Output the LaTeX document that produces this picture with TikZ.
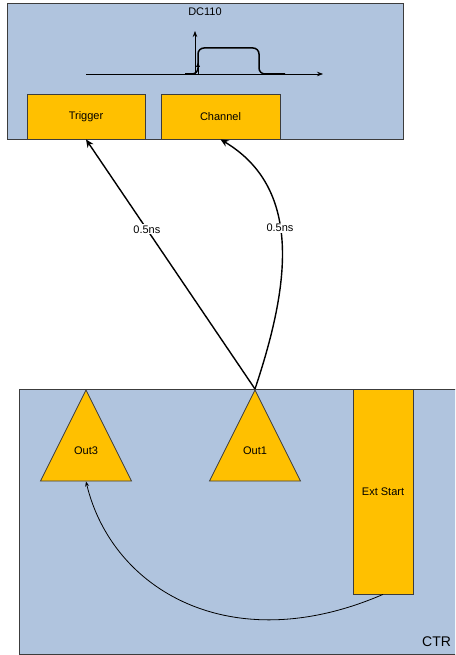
\documentclass[tikz,border=0pt]{standalone}
\usepackage{fontspec}
\setmainfont{Liberation Sans}
\usepackage{tikz}
\usetikzlibrary{arrows.meta,shapes.geometric}
\definecolor{panelBlue}{HTML}{B0C4DE}
\definecolor{partAmber}{HTML}{FFC000}
\definecolor{edgeGray}{HTML}{3C3C3C}

\begin{document}
\begin{tikzpicture}[x=1pt,y=-1pt,font=\fontsize{11}{13}\selectfont,
    panel/.style={draw=edgeGray,line width=0.8pt,fill=panelBlue,inner sep=0pt},
    part/.style={draw=edgeGray,line width=0.8pt,fill=partAmber,inner sep=0pt},
    outtri/.style={part,isosceles triangle,isosceles triangle stretches,
        shape border rotate=90,minimum width=91pt,minimum height=91pt,anchor=apex},
    link/.style={line width=1.4pt,-{Stealth[length=8pt,width=7pt]}},
    thinlink/.style={line width=0.8pt,-{Stealth[length=5pt,width=4pt]}},
    delay/.style={fill=white,inner sep=1pt}]
    \clip (0,0) rectangle (455,655);

    % scope box
    \node[panel,minimum width=396pt,minimum height=136pt] (dc) at (205,71) {};
    \node[anchor=base] (dctitle) at (205,16) {DC110};
    \node[part,minimum width=118pt,minimum height=45pt] (trig) at (86,116.5) {Trigger};
    \node[part,minimum width=119pt,minimum height=45pt] (chan) at (220.5,116.5) {Channel};

    % pulse on the screen
    \draw[line width=0.7pt,-{Stealth[length=6pt,width=4.5pt]}] (86,74) -- (323,74);
    \draw[line width=0.7pt,-{Stealth[length=6pt,width=4.5pt]}] (195,74) -- (195,31);
    \draw[line width=1.5pt,rounded corners=6pt] (185,74) -- (198,74) -- (198,48)
        -- (259,48) -- (259,74) -- (285,74);
    \draw[line width=1pt,-{Latex[length=5pt,width=4.5pt]}] (198,74) -- (198,62);

    % counter box
    \node[panel,minimum width=461pt,minimum height=265pt] (ctr) at (249.5,521.5) {};
    \node[anchor=base east,font=\fontsize{14}{16}\selectfont] (ctrtitle) at (454.5,646) {CTR};
    \node[outtri] (out3) at (86,389) {};
    \node (out3lbl) at (86,450.5) {Out3};
    \node[outtri] (out1) at (255,389) {};
    \node (out1lbl) at (255,450.5) {Out1};
    \node[part,minimum width=60pt,minimum height=205pt] (ext) at (383,491.5) {};
    \node (extlbl) at (383,492) {Ext Start};

    % cables
    \draw[link] (out1.apex) -- node[delay,pos=0.64] (d1) {0.5ns} (trig.south);
    \draw[link] (out1.apex) .. controls (288,290) and (305,190) .. node[delay,pos=0.57] (d2) {0.5ns} (chan.south);
    \draw[thinlink] (ext.south) .. controls (231,660) and (112,590) .. (out3.lower side);
\end{tikzpicture}
\end{document}
